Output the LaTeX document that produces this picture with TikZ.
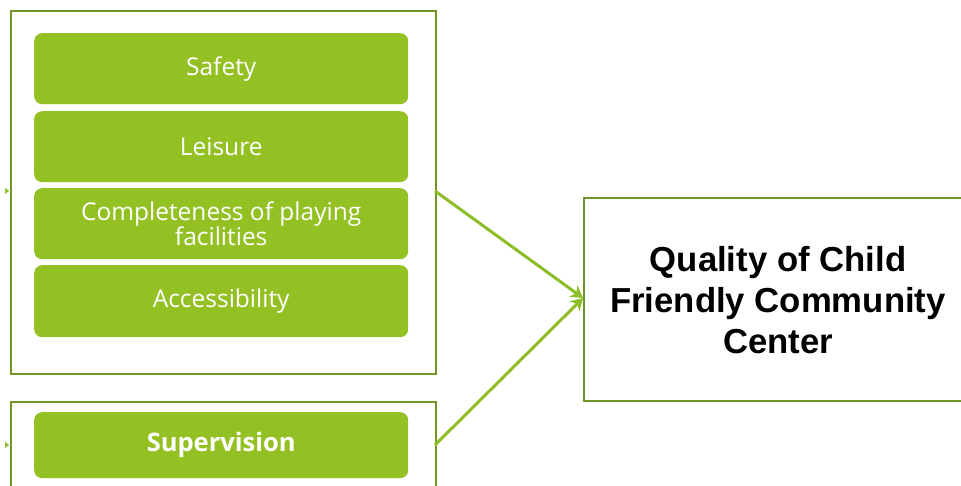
\documentclass[tikz,border=0pt]{standalone}
\usepackage{fontspec}
\setmainfont{Open Sans}
\newfontfamily\arialfont{Liberation Sans}
\usetikzlibrary{arrows.meta}
\definecolor{frameg}{RGB}{112,150,40}
\definecolor{fillg}{RGB}{147,192,35}
\definecolor{arrowg}{RGB}{140,190,40}
\tikzset{
  outerbox/.style={draw=frameg, line width=2pt, fill=white},
  itembox/.style={fill=fillg, rounded corners=8pt},
  itemtext/.style={text=white, align=center, font=\fontsize{24.5}{25}\selectfont},
  conn/.style={draw=arrowg, line width=3pt, -{Stealth[length=12pt,width=14pt]}},
  tiny/.style={draw=arrowg, line width=0.5pt, -{Triangle[length=4pt,width=6pt]}}
}
\begin{document}
\begin{tikzpicture}[x=1pt,y=-1pt]
\useasboundingbox (0,0) rectangle (961,486);
\clip (0,0) rectangle (961,486);
% outer frames
\node[outerbox, minimum width=425pt, minimum height=363pt, anchor=north west, inner sep=0pt] (frameA) at (10,10) {};
\node[outerbox, minimum width=425pt, minimum height=120pt, anchor=north west, inner sep=0pt] (frameB) at (10,401) {};
\node[outerbox, minimum width=420pt, minimum height=203pt, anchor=north west, inner sep=0pt] (quality) at (583,197) {};
% items
\node[itembox, minimum width=374pt, minimum height=71pt, anchor=north west] (safety) at (34,33) {};
\node[itemtext] (tsafety) at (safety.center) {Safety};
\node[itembox, minimum width=374pt, minimum height=71pt, anchor=north west] (leisure) at (34,111) {};
\node[itemtext] (tleisure) at (leisure.center) {Leisure};
\node[itembox, minimum width=374pt, minimum height=71pt, anchor=north west] (complete) at (34,188) {};
\node[itemtext] (tcomplete) at (complete.center) {Completeness of playing\\facilities};
\node[itembox, minimum width=374pt, minimum height=72pt, anchor=north west] (access) at (34,265) {};
\node[itemtext] (taccess) at (access.center) {Accessibility};
\node[itembox, minimum width=374pt, minimum height=66pt, anchor=north west] (superv) at (34,412) {};
\node[itemtext, font=\bfseries\fontsize{25.5}{27}\selectfont] (tsuperv) at (superv.center) {Supervision};
% right text
\node[align=center, font=\arialfont\bfseries\fontsize{34.7}{41}\selectfont, anchor=center] (qtext) at (778,300) {Quality of Child\\Friendly Community\\Center};
% connectors
\coordinate (qin) at (583,298);
\coordinate (aout) at (435,191);
\coordinate (bout) at (435,445);
\draw[conn] (aout) -- (qin);
\draw[conn] (bout) -- (qin);
\coordinate (la) at (5,191);
\coordinate (lb) at (5,445);
\coordinate (lae) at (9,191);
\coordinate (lbe) at (9,445);
\draw[tiny] (la) -- (lae);
\draw[tiny] (lb) -- (lbe);
\end{tikzpicture}
\end{document}
